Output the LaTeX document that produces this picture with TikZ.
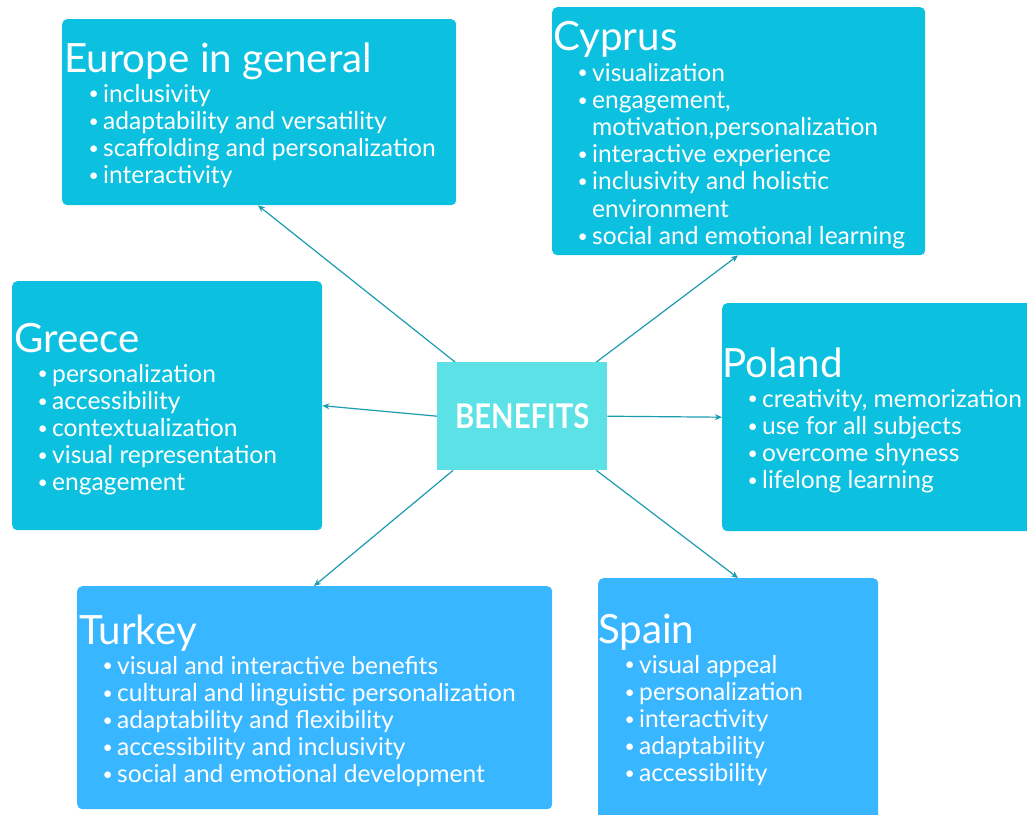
\documentclass[tikz,border=0pt]{standalone}
\usepackage{fontspec}
\setmainfont{Lato}
\usetikzlibrary{arrows.meta}
\definecolor{cyanbox}{HTML}{0CC0DF}
\definecolor{bluebox}{HTML}{38B6FF}
\definecolor{hubfill}{HTML}{5CE1E6}
\definecolor{linkcol}{HTML}{1A9CB0}
% bullet entry and continuation line of a list
\newcommand\smalldot{\hspace*{0.3pt}\raisebox{2.1pt}{\scalebox{0.72}{\textbullet}}}
\newcommand\bitem[1]{\makebox[15pt][l]{\smalldot}#1}
\newcommand\bcont[1]{\makebox[15pt][l]{}#1}
\begin{document}
\begin{tikzpicture}[x=1pt,y=-1pt,
  panel/.style={rounded corners=5pt, inner sep=0pt, anchor=north west, draw=none},
  cpanel/.style={panel, fill=cyanbox},
  bpanel/.style={panel, fill=bluebox},
  heading/.style={anchor=base west, inner sep=0pt, text=white, font=\fontsize{40.3}{40}\selectfont},
  entry/.style={anchor=base west, inner sep=0pt, text=white, font=\fontsize{24.6}{27}\selectfont},
  link/.style={draw=linkcol, line width=1.2pt, -{Stealth[length=7pt,width=6pt]}}]
\useasboundingbox (0,0) rectangle (1027,814);
\clip (0,0) rectangle (1027,814);

% panels
\node[cpanel, minimum width=394pt, minimum height=186pt] (eur) at (62,19) {};
\node[cpanel, minimum width=373pt, minimum height=248pt] (cyp) at (552,7) {};
\node[cpanel, minimum width=310pt, minimum height=249pt] (gre) at (12,281) {};
\node[cpanel, minimum width=320pt, minimum height=228pt] (pol) at (722,303) {};
\node[bpanel, minimum width=475pt, minimum height=223pt] (tur) at (77,586) {};
\node[bpanel, minimum width=280pt, minimum height=250pt] (spa) at (598,578) {};

% central node
\node[fill=hubfill, minimum width=170pt, minimum height=108pt, anchor=north west, inner sep=0pt,
  text=white, font=\fontsize{34}{34}\bfseries\selectfont] (hub) at (437,362)
  {\scalebox{0.86}[1]{BENEFITS}};

% Europe in general
\node[heading] (eur-h) at (64,72) {Europe in general};
\foreach \t [count=\i] in {inclusivity, adaptability and versatility,
    scaffolding and personalization, interactivity}
  \node[entry] (eur-\i) at (88,{102+27.2*(\i-1)}) {\bitem{\t}};

% Cyprus
\node[heading] (cyp-h) at (553,50) {Cyprus};
\foreach \t [count=\i] in {\bitem{visualization}, \bitem{engagement,},
    \bcont{motivation,personalization}, \bitem{interactive experience},
    \bitem{inclusivity and holistic}, \bcont{environment},
    \bitem{social and emotional learning}}
  \node[entry] (cyp-\i) at (577,{81+27.2*(\i-1)}) {\t};

% Greece
\node[heading] (gre-h) at (14,352) {Greece};
\foreach \t [count=\i] in {personalization, accessibility, contextualization,
    visual representation, engagement}
  \node[entry] (gre-\i) at (37,{382+27.2*(\i-1)}) {\bitem{\t}};

% Poland
\node[heading] (pol-h) at (722,377) {Poland};
\foreach \t [count=\i] in {{creativity, memorization}, use for all subjects,
    overcome shyness, lifelong learning}
  \node[entry] (pol-\i) at (747,{407+27.2*(\i-1)}) {\bitem{\t}};

% Turkey
\node[heading] (tur-h) at (79,644) {Turkey};
\foreach \t [count=\i] in {visual and interactive benefits,
    cultural and linguistic personalization, adaptability and flexibility,
    accessibility and inclusivity, social and emotional development}
  \node[entry] (tur-\i) at (102,{674+27.2*(\i-1)}) {\bitem{\t}};

% Spain
\node[heading] (spa-h) at (598,643) {Spain};
\foreach \t [count=\i] in {visual appeal, personalization, interactivity,
    adaptability, accessibility}
  \node[entry] (spa-\i) at (624,{673+27.2*(\i-1)}) {\bitem{\t}};

% connectors from the central node
\draw[link] ([xshift=18pt]hub.north west) -- ([xshift=196pt]eur.south west);
\draw[link] ([xshift=-11pt]hub.north east) -- ([xshift=186pt]cyp.south west);
\draw[link] (hub.west) -- (gre.east);
\draw[link] (hub.east) -- (pol.west);
\draw[link] ([xshift=16pt]hub.south west) -- ([xshift=237pt]tur.north west);
\draw[link] ([xshift=-11pt]hub.south east) -- ([xshift=140pt]spa.north west);
\end{tikzpicture}
\end{document}
